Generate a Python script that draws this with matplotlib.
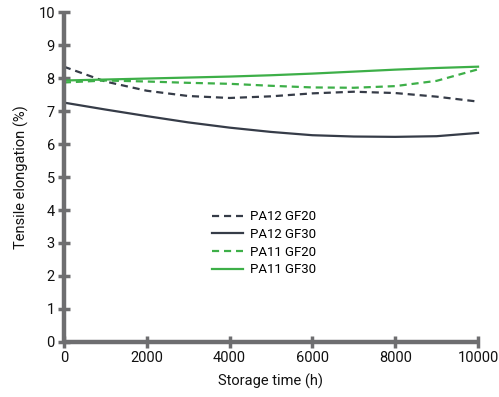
import matplotlib
matplotlib.use("Agg")
import matplotlib.pyplot as plt

plt.rcParams['font.family'] = ['Roboto', 'DejaVu Sans']

hours = [0, 1000, 2000, 3000, 4000, 5000, 6000, 7000, 8000, 9000, 10000]
pa12_gf20 = [8.35, 7.90, 7.62, 7.46, 7.40, 7.45, 7.54, 7.59, 7.55, 7.44, 7.29]
pa12_gf30 = [7.26, 7.05, 6.85, 6.66, 6.50, 6.37, 6.27, 6.23, 6.22, 6.24, 6.34]
pa11_gf20 = [7.87, 7.93, 7.90, 7.86, 7.83, 7.77, 7.72, 7.71, 7.76, 7.92, 8.27]
pa11_gf30 = [7.93, 7.96, 7.99, 8.02, 8.05, 8.09, 8.14, 8.20, 8.26, 8.31, 8.35]

dark = '#363c48'
green = '#3daf48'
gray = '#6e6e70'

fig = plt.figure(figsize=(4.99, 3.97), dpi=100)
ax = fig.add_axes([0.128, 0.139, 0.830, 0.830])

ax.plot(hours, pa12_gf20, color=dark, lw=1.6, ls=(0, (3.2, 2.2)), label='PA12 GF20')
ax.plot(hours, pa12_gf30, color=dark, lw=1.6, label='PA12 GF30')
ax.plot(hours, pa11_gf20, color=green, lw=1.6, ls=(0, (3.2, 2.2)), label='PA11 GF20')
ax.plot(hours, pa11_gf30, color=green, lw=1.6, label='PA11 GF30')

ax.set_xlim(0, 10000)
ax.set_ylim(0, 10)
ax.set_xticks([0, 2000, 4000, 6000, 8000, 10000])
ax.set_yticks(range(0, 11))

for s in ['top', 'right']:
    ax.spines[s].set_visible(False)
for s in ['left', 'bottom']:
    ax.spines[s].set_color(gray)
    ax.spines[s].set_linewidth(3.2)
    ax.spines[s].set_capstyle('butt')
ax.tick_params(axis='both', direction='inout', length=9, width=2.5, color=gray,
               labelsize=10.5, labelcolor='#111111', pad=2)
for l in ax.get_lines():
    l.set_clip_on(False)

ax.set_xlabel('Storage time (h)', fontsize=10.5, color='#111111', labelpad=6)
ax.set_ylabel('Tensile elongation (%)', fontsize=10.5, color='#111111', labelpad=7)

ax.legend(loc='upper left', bbox_to_anchor=(0.33, 0.435), frameon=False, fontsize=9.5,
          handlelength=2.3, handletextpad=0.55, labelspacing=0.35)

fig.savefig('out.png', dpi=100)
